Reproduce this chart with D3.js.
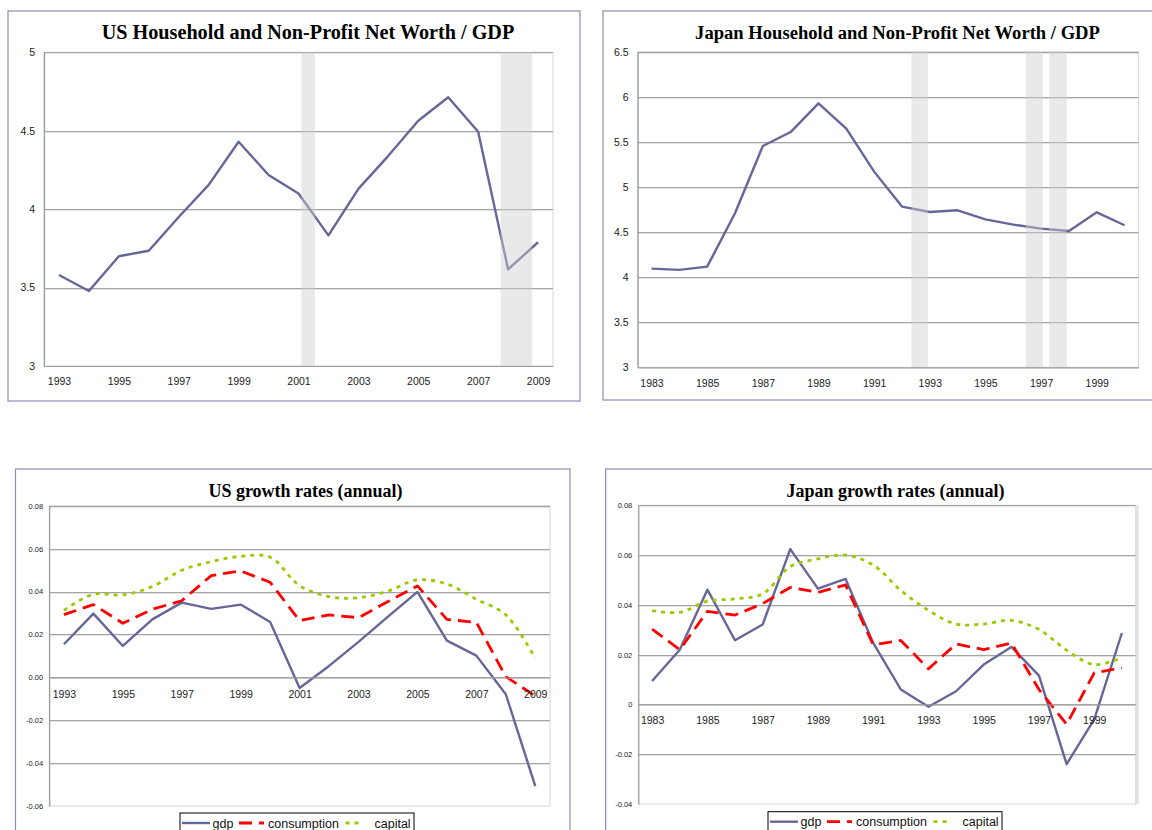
<!DOCTYPE html>
<html><head><meta charset="utf-8">
<script src="https://cdn.jsdelivr.net/npm/d3@7"></script>
<style>body{margin:0;background:#fff;} svg{display:block;}</style>
</head><body><svg id="c" width="1152" height="830"></svg>
<script>
// ---------- DATA ----------
const usYears = [1993,1994,1995,1996,1997,1998,1999,2000,2001,2002,2003,2004,2005,2006,2007,2008,2009];
const usNetWorth = [3.58,3.478,3.70,3.735,3.95,4.155,4.43,4.218,4.10,3.833,4.129,4.34,4.564,4.713,4.494,3.616,3.789];
const usRecessions = [[2001.1,2001.55],[2007.75,2008.8]];
const usNwTicks = [3,3.5,4,4.5,5];
const usNwTickLabels = ["3","3.5","4","4.5","5"];
const usXLabels = [1993,1995,1997,1999,2001,2003,2005,2007,2009];

const japanYears = [1983,1984,1985,1986,1987,1988,1989,1990,1991,1992,1993,1994,1995,1996,1997,1998,1999,2000];
const japanNetWorth = [4.094,4.08,4.116,4.708,5.454,5.609,5.927,5.646,5.170,4.782,4.722,4.741,4.641,4.582,4.538,4.512,4.719,4.575];
const japanRecessions = [[1992.34,1992.93],[1996.45,1997.06],[1997.29,1997.92]];
const japanNwTicks = [3,3.5,4,4.5,5,5.5,6,6.5];
const japanNwTickLabels = ["3","3.5","4","4.5","5","5.5","6","6.5"];
const japanXLabels = [1983,1985,1987,1989,1991,1993,1995,1997,1999];

const usGdp = [0.0154,0.0297,0.0146,0.0270,0.0348,0.0319,0.0339,0.0258,-0.0050,0.0053,0.0165,0.0283,0.0398,0.0171,0.0101,-0.0079,-0.0507];
const usConsumption = [0.0292,0.0339,0.0252,0.0317,0.0357,0.0474,0.0496,0.0443,0.0264,0.0291,0.0278,0.0353,0.0426,0.0270,0.0256,0.0003,-0.0087];
const usCapital = [0.0312,0.0387,0.0384,0.0423,0.0499,0.0539,0.0564,0.0560,0.0427,0.0376,0.0371,0.0402,0.0454,0.0435,0.0364,0.0291,0.0088];
const usGrowthTicks = [-0.06,-0.04,-0.02,0,0.02,0.04,0.06,0.08];
const usGrowthTickLabels = ["-0.06","-0.04","-0.02","0.00","0.02","0.04","0.06","0.08"];

const japanGdp = [0.0094,0.0220,0.0461,0.0258,0.0321,0.0624,0.0465,0.0504,0.0247,0.0060,-0.0009,0.0053,0.0160,0.0231,0.0116,-0.0240,-0.0060,0.0287];
const japanConsumption = [0.0303,0.0220,0.0374,0.0359,0.0405,0.0470,0.0450,0.0480,0.0240,0.0257,0.0143,0.0243,0.0220,0.0247,0.0060,-0.0080,0.0127,0.0147];
const japanCapital = [0.0377,0.0370,0.0415,0.0424,0.0444,0.0554,0.0585,0.0600,0.0560,0.0458,0.0378,0.0323,0.0323,0.0338,0.0301,0.0218,0.0160,0.0188];
const japanGrowthTicks = [-0.04,-0.02,0,0.02,0.04,0.06,0.08];
const japanGrowthTickLabels = ["-0.04","-0.02","0","0.02","0.04","0.06","0.08"];

const seriesNames = ["gdp","consumption","capital"];

// ---------- STYLES ----------
const seriesStyle = {
  gdp: {color:"#666699", dash:null, width:2.4, curve:d3.curveLinear},
  consumption: {color:"#ff0000", dash:"13,7", width:2.8, curve:d3.curveLinear},
  capital: {color:"#99cc00", dash:"4,5", width:2.8, curve:d3.curveCatmullRom.alpha(0.5)}
};
const svg = d3.select("#c");
const FRAME = "#8c8cb4";
const TICKFONT = "Liberation Sans, Arial, sans-serif";
const TITLEFONT = "Liberation Serif, Times New Roman, serif";

function panel(o){
  const g = svg.append("g");
  g.append("rect").attr("x",o.frame[0]).attr("y",o.frame[1]).attr("width",o.frame[2]).attr("height",o.frame[3])
    .attr("fill","#fff").attr("stroke",FRAME).attr("stroke-width",1.2);
  g.append("text").attr("x",o.titleX).attr("y",o.titleY).attr("text-anchor","middle")
    .attr("font-family",TITLEFONT).attr("font-weight","bold").attr("font-size",o.titleSize).attr("fill","#000")
    .text(o.title);
  const [L,T,R,B] = o.plot;
  const x = d3.scaleLinear().domain([o.years[0]-0.5, o.years[o.years.length-1]+0.5]).range([L,R]);
  const y = d3.scaleLinear().domain(o.yDomain).range([B,T]);
  g.append("rect").attr("x",L).attr("y",T).attr("width",R-L).attr("height",B-T)
    .attr("fill","#fff").attr("stroke","#d6d6d6").attr("stroke-width",1);
  if (o.rightShadow) g.append("rect").attr("x",R).attr("y",T).attr("width",3).attr("height",B-T).attr("fill","#e2e2e2");
  o.ticks.forEach(t=>{
    if (t===o.yDomain[0]) return;
    g.append("line").attr("x1",L).attr("x2",R).attr("y1",Math.round(y(t))+1.5).attr("y2",Math.round(y(t))+1.5)
      .attr("stroke","#e4e4e4").attr("stroke-width",1);
    g.append("line").attr("x1",L).attr("x2",R).attr("y1",Math.round(y(t))+0.5).attr("y2",Math.round(y(t))+0.5)
      .attr("stroke","#a4a4a4").attr("stroke-width",1);
  });
  o.series.forEach(s=>{
    const st = seriesStyle[s.name];
    const line = d3.line().x((d,i)=>x(o.years[i])).y(d=>y(d)).curve(st.curve);
    g.append("path").attr("d",line(s.values)).attr("fill","none")
      .attr("stroke",st.color).attr("stroke-width",st.width)
      .attr("stroke-dasharray",st.dash).attr("stroke-linejoin","round");
  });
  (o.shades||[]).forEach(r=>{
    g.append("rect").attr("x",x(r[0])).attr("y",T).attr("width",x(r[1])-x(r[0])).attr("height",B-T)
      .attr("fill","#cfcfcf").attr("opacity",0.45);
  });
  const ya = g.append("g").attr("transform",`translate(${L},0)`)
    .call(d3.axisLeft(y).tickValues(o.ticks).tickFormat((d,i)=>o.tickLabels[i]).tickSize(0).tickPadding(o.yPad));
  ya.select(".domain").attr("stroke","#9a9a9a").attr("stroke-width",1.2);
  ya.selectAll("text").attr("font-family",TICKFONT).attr("font-size",o.yFont).attr("fill","#222");
  const axY = o.axisAtZero ? Math.round(y(0))+0.5 : B;
  const xa = g.append("g").attr("transform",`translate(0,${axY})`)
    .call(d3.axisBottom(x).tickValues(o.xLabels).tickFormat(d3.format("d")).tickSize(0).tickPadding(o.xPad));
  xa.select(".domain").attr("stroke",o.axisAtZero?"#a4a4a4":"#9a9a9a").attr("stroke-width",o.axisAtZero?1:1.2);
  xa.selectAll("text").attr("font-family",TICKFONT).attr("font-size",o.xFont).attr("fill","#222");
  if (o.legend){
    const [lx,ly] = o.legend;
    const lg = g.append("g").attr("transform",`translate(${lx},${ly})`);
    lg.append("rect").attr("x",0).attr("y",0).attr("width",234).attr("height",30)
      .attr("fill","#fff").attr("stroke","#000").attr("stroke-width",1);
    const pos = {gdp:[2,30,32.5], consumption:[59,84,88], capital:[165.5,181,194.5]};
    seriesNames.forEach(n=>{
      const st = seriesStyle[n], p = pos[n];
      lg.append("line").attr("x1",p[0]).attr("x2",p[1]).attr("y1",10).attr("y2",10)
        .attr("stroke",st.color).attr("stroke-width",st.width).attr("stroke-dasharray",st.dash);
      lg.append("text").attr("x",p[2]).attr("y",14.5).attr("font-family",TICKFONT).attr("font-size",12.5)
        .attr("fill","#111").text(n);
    });
  }
}

panel({frame:[8,11,572,390], title:"US Household and Non-Profit Net Worth / GDP", titleX:308, titleY:39, titleSize:20.2,
  plot:[44,52.3,553,366], years:usYears, yDomain:[3,5], ticks:usNwTicks, tickLabels:usNwTickLabels, xLabels:usXLabels,
  series:[{name:"gdp", values:usNetWorth}], shades:usRecessions, yPad:9, xPad:12, yFont:10.5, xFont:10.5});

panel({frame:[603,11,560,389], title:"Japan Household and Non-Profit Net Worth / GDP", titleX:897.5, titleY:38.5, titleSize:18.6,
  plot:[637.6,51.7,1138.5,367.3], years:japanYears, yDomain:[3,6.5], ticks:japanNwTicks, tickLabels:japanNwTickLabels, xLabels:japanXLabels,
  series:[{name:"gdp", values:japanNetWorth}], shades:japanRecessions, yPad:9, xPad:12, yFont:10.5, xFont:10.5});

panel({frame:[15.5,469,554.5,400], title:"US growth rates (annual)", titleX:305.5, titleY:496.5, titleSize:18,
  plot:[49.2,505.7,550,806], years:usYears, yDomain:[-0.06,0.08], ticks:usGrowthTicks, tickLabels:usGrowthTickLabels, xLabels:usXLabels,
  series:[{name:"gdp",values:usGdp},{name:"consumption",values:usConsumption},{name:"capital",values:usCapital}],
  axisAtZero:true, yPad:6, xPad:13, yFont:7.5, xFont:10.5, legend:[180,813]});

panel({frame:[605.7,469,560,400], title:"Japan growth rates (annual)", titleX:895.5, titleY:496.5, titleSize:18,
  plot:[638.3,505.3,1135.7,804], years:japanYears, yDomain:[-0.04,0.08], ticks:japanGrowthTicks, tickLabels:japanGrowthTickLabels, xLabels:japanXLabels,
  series:[{name:"gdp",values:japanGdp},{name:"consumption",values:japanConsumption},{name:"capital",values:japanCapital}],
  axisAtZero:true, rightShadow:true, yPad:6, xPad:12, yFont:7.5, xFont:10.5, legend:[768,811.7]});
</script></body></html>
